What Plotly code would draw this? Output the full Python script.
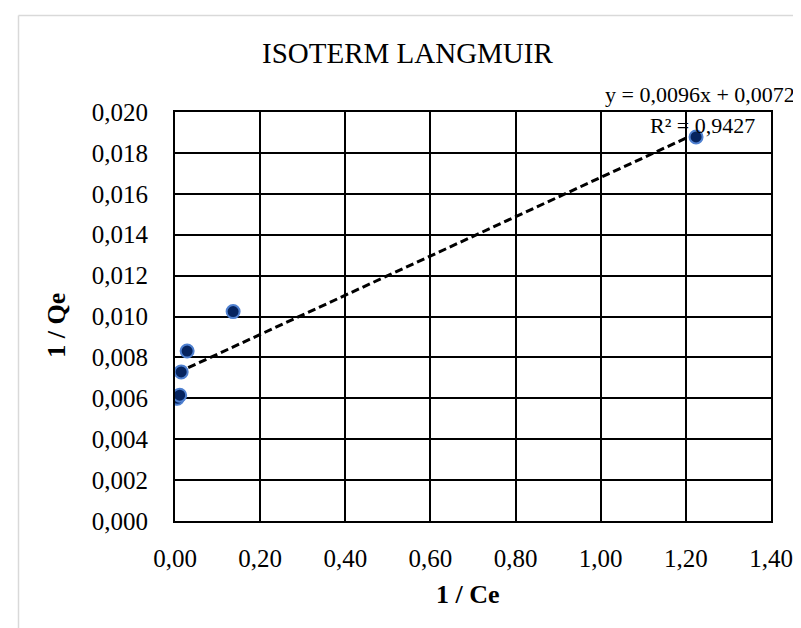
import plotly.graph_objects as go

# Data
x_vals = [0.0054, 0.0110, 0.0145, 0.0285, 0.1365, 1.224]
y_vals = [0.00600, 0.00615, 0.00729, 0.00831, 0.01024, 0.01878]
slope = 0.0096
intercept = 0.0072
eq_text = "y = 0,0096x + 0,0072"
r2_text = "R² = 0,9427"
title_text = "ISOTERM LANGMUIR"
x_title = "1 / Ce"
y_title = "1 / Qe"
x_tickvals = [0.0, 0.2, 0.4, 0.6, 0.8, 1.0, 1.2, 1.4]
y_tickvals = [0.000, 0.002, 0.004, 0.006, 0.008, 0.010, 0.012, 0.014, 0.016, 0.018, 0.020]

W, H = 801, 628
L, R, T, B = 167, 763, 104, 513.5


def px(xp):
    return (xp - L) / (R - L)


def py(yp):
    return (B - yp) / (B - T)


FONT = "Liberation Serif"

trend_x = [min(x_vals), max(x_vals)]
trend_y = [slope * v + intercept for v in trend_x]

fig = go.Figure()
fig.add_trace(go.Scatter(
    x=trend_x, y=trend_y, mode="lines",
    line=dict(color="black", width=3, dash="8px,4px"),
    hoverinfo="skip", showlegend=False,
))
fig.add_trace(go.Scatter(
    x=x_vals, y=y_vals, mode="markers",
    marker=dict(size=13, color="#06245f", line=dict(color="#4f80d0", width=2)),
    showlegend=False,
))

fig.update_layout(
    width=W, height=H,
    margin=dict(l=L, r=W - R, t=T, b=H - B, pad=0),
    paper_bgcolor="white", plot_bgcolor="white",
    font=dict(family=FONT, color="black"),
    separators=",.",
    xaxis=dict(
        range=[0, 1.4], tickvals=x_tickvals, tickformat=".2f",
        showgrid=True, gridcolor="black", gridwidth=1.5,
        showline=True, linecolor="black", linewidth=2, mirror=True,
        zeroline=False, ticks="", ticklabelstandoff=14,
        tickfont=dict(family=FONT, size=25, color="black"),
    ),
    yaxis=dict(
        range=[0, 0.020], tickvals=y_tickvals, tickformat=".3f",
        showgrid=True, gridcolor="black", gridwidth=1.5,
        showline=True, linecolor="black", linewidth=2, mirror=True,
        zeroline=False, ticks="", ticklabelstandoff=20,
        tickfont=dict(family=FONT, size=25, color="black"),
    ),
    annotations=[
        dict(text=title_text, x=px(399), y=py(45), xref="paper", yref="paper",
             xanchor="center", yanchor="middle", showarrow=False,
             font=dict(family=FONT, size=29, color="black")),
        dict(text=f"<b>{x_title}</b>", x=px(460), y=py(587), xref="paper", yref="paper",
             xanchor="center", yanchor="middle", showarrow=False,
             font=dict(family=FONT, size=26, color="black")),
        dict(text=f"<b>{y_title}</b>", x=px(49), y=py(318), xref="paper", yref="paper",
             xanchor="center", yanchor="middle", showarrow=False, textangle=-90,
             font=dict(family=FONT, size=26, color="black")),
        dict(text=eq_text, x=px(692), y=py(86), xref="paper", yref="paper",
             xanchor="center", yanchor="middle", showarrow=False,
             font=dict(family=FONT, size=22, color="black")),
        dict(text=r2_text, x=px(694), y=py(118), xref="paper", yref="paper",
             xanchor="center", yanchor="middle", showarrow=False,
             font=dict(family=FONT, size=22, color="black")),
    ],
    shapes=[
        dict(type="line", xref="paper", yref="paper",
             x0=px(10.5), y0=py(7.5), x1=px(820), y1=py(7.5),
             line=dict(color="#d9d9d9", width=1.5)),
        dict(type="line", xref="paper", yref="paper",
             x0=px(10.5), y0=py(7.5), x1=px(10.5), y1=py(660),
             line=dict(color="#d9d9d9", width=1.5)),
    ],
)

fig.write_html("out.html")
